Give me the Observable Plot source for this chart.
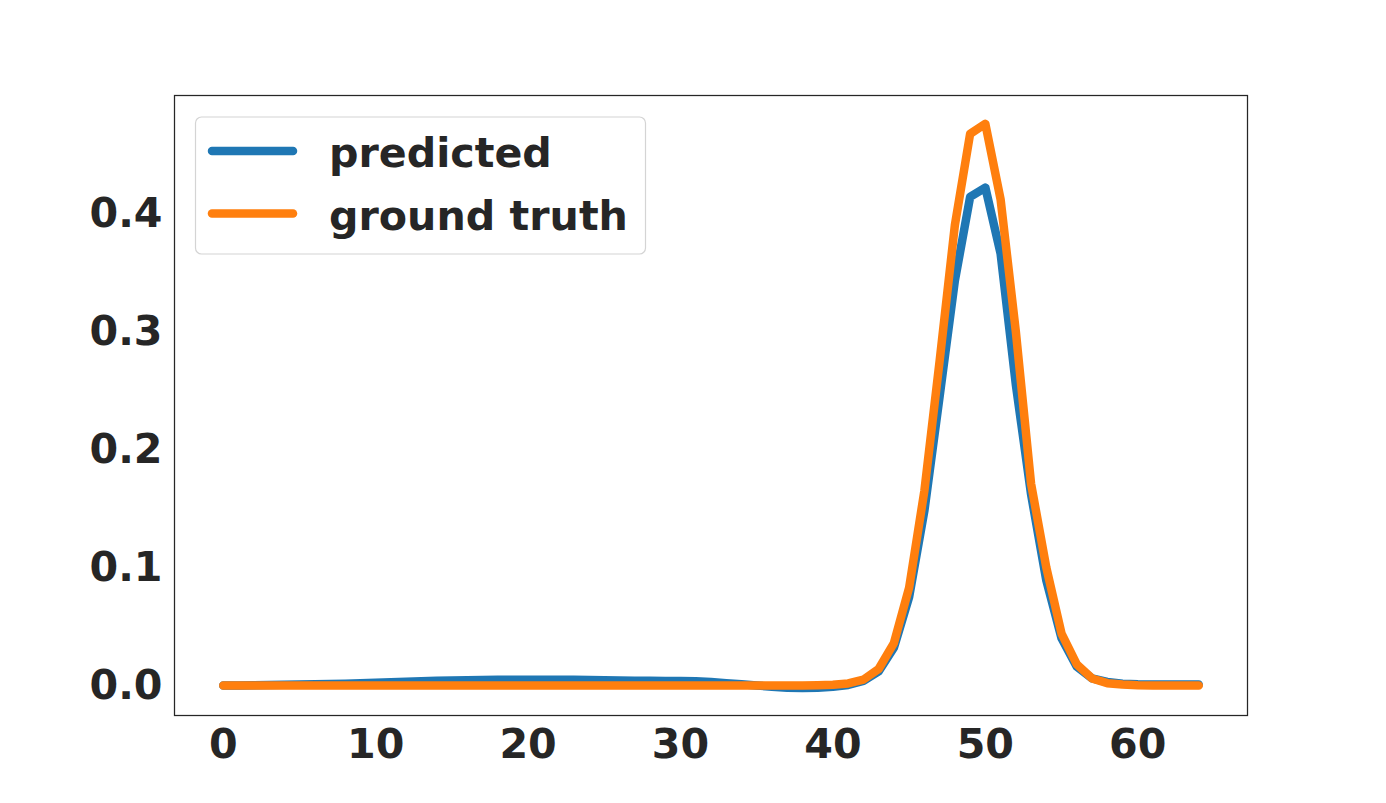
<!DOCTYPE html>
<html>
<head>
<meta charset="utf-8">
<script src="https://cdn.jsdelivr.net/npm/d3@7"></script>
<script src="https://cdn.jsdelivr.net/npm/@observablehq/plot@0.6"></script>
<style>
  html, body { margin: 0; padding: 0; background: #fff; }
  #chart { position: relative; width: 1386px; height: 803px; }
  #chart svg text { font-family: "DejaVu Sans", sans-serif; font-weight: bold; }
</style>
</head>
<body>
<div id="chart"></div>
<script>
// ---- data ----
const bins = [0,1,2,3,4,5,6,7,8,9,10,11,12,13,14,15,16,17,18,19,20,21,22,23,24,25,26,27,28,29,30,31,32,
  33,34,35,36,37,38,39,40,41,42,43,44,45,46,47,48,49,50,51,52,53,54,55,56,57,58,59,60,61,62,63,64];
const predicted = [0.0000,0.0000,0.0002,0.0004,0.0006,0.0008,0.0010,0.0013,0.0016,0.0020,
  0.0024,0.0028,0.0032,0.0036,0.0040,0.0042,0.0044,0.0046,0.0048,0.0049,
  0.0050,0.0050,0.0050,0.0049,0.0047,0.0045,0.0043,0.0041,0.0040,0.0039,
  0.0038,0.0036,0.0030,0.0020,0.0010,0.0000,-0.0010,-0.0018,-0.0020,-0.0018,
  -0.0010,0.0005,0.0040,0.0120,0.0320,0.0750,0.1480,0.2450,0.3430,0.4140,
  0.4220,0.3660,0.2550,0.1620,0.0890,0.0400,0.0160,0.0060,0.0030,0.0015,
  0.0010,0.0008,0.0008,0.0008,0.0008];
const groundTruth = [0,0,0,0,0,0,0,0,0,0,
  0,0,0,0,0,0,0,0,0,0,
  0,0,0,0,0,0,0,0,0,0,
  0,0,0,0,0,0,0,0,0,0.0002,
  0.0006,0.0018,0.0050,0.0140,0.0360,0.0830,0.1650,0.2750,0.3900,0.4675,
  0.4760,0.4120,0.3000,0.1710,0.1000,0.0440,0.0180,0.0060,0.0020,0.0008,
  0.0003,0.0001,0.0001,0.0000,0.0000];
const seriesNames = ["predicted", "ground truth"];
const seriesColors = ["#1f77b4", "#ff7f0e"];
const xTicks = [0, 10, 20, 30, 40, 50, 60];
const yTicks = [0.0, 0.1, 0.2, 0.3, 0.4];

// ---- build table ----
const predRows = bins.map((b, i) => ({bin: b, value: predicted[i], series: seriesNames[0]}));
const truthRows = bins.map((b, i) => ({bin: b, value: groundTruth[i], series: seriesNames[1]}));

const fs = 41.2;
const ink = "#262626";
const lw = 8.5;

const chart = Plot.plot({
  width: 1386,
  height: 803,
  marginLeft: 174,
  marginRight: 139,
  marginTop: 95,
  marginBottom: 88,
  style: {background: "white", color: ink, fontFamily: "DejaVu Sans", fontWeight: "bold"},
  x: {domain: [-3.2, 67.2], label: null},
  y: {domain: [-0.0254, 0.5], label: null},
  marks: [
    Plot.lineY(predRows, {x: "bin", y: "value", stroke: seriesColors[0], strokeWidth: lw,
      strokeLinecap: "round", strokeLinejoin: "round"}),
    Plot.lineY(truthRows, {x: "bin", y: "value", stroke: seriesColors[1], strokeWidth: lw,
      strokeLinecap: "round", strokeLinejoin: "round"}),
    Plot.frame({stroke: ink, strokeWidth: 1.25}),
    Plot.axisX(xTicks, {tickSize: 0, tickPadding: 13, fontSize: fs, fontWeight: "bold", fill: ink, label: null}),
    Plot.axisY(yTicks, {tickSize: 0, tickPadding: 12, fontSize: fs, fontWeight: "bold", fill: ink,
      tickFormat: d3.format(".1f"), label: null})
  ]
});

document.getElementById("chart").appendChild(chart);

// ---- legend (inside the axes, upper left) ----
const svg = d3.select(chart);
const lg = svg.append("g").attr("class", "legend").attr("text-anchor", "start");
lg.append("rect")
  .attr("x", 195.5).attr("y", 117).attr("width", 450).attr("height", 137)
  .attr("rx", 6).attr("ry", 6)
  .attr("fill", "white").attr("fill-opacity", 0.8)
  .attr("stroke", "#d4d4d4").attr("stroke-width", 1.2);
seriesNames.forEach((name, i) => {
  const cy = 151 + i * 62.5;
  lg.append("line")
    .attr("x1", 212).attr("x2", 293).attr("y1", cy).attr("y2", cy)
    .attr("stroke", seriesColors[i]).attr("stroke-width", lw).attr("stroke-linecap", "round");
  lg.append("text")
    .attr("x", 329).attr("y", cy + 16)
    .attr("text-anchor", "start")
    .attr("font-size", fs).attr("font-weight", "bold").attr("fill", ink)
    .text(name);
});
</script>
</body>
</html>
